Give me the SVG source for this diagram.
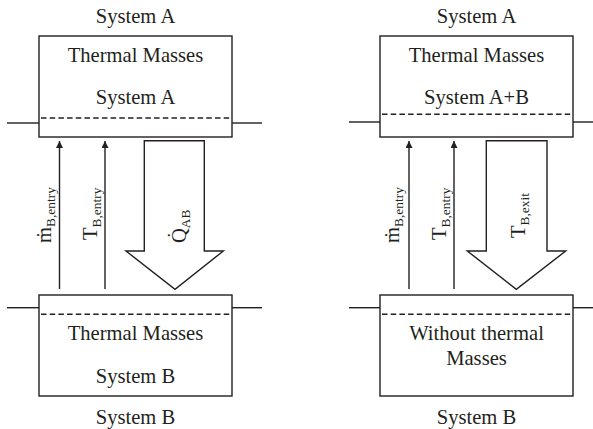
<svg xmlns="http://www.w3.org/2000/svg" width="593" height="429" viewBox="0 0 593 429">
  <defs>
    <style>
      text { font-family: "Liberation Serif", "Times New Roman", serif; font-size: 20.6px; fill: #231f20; }
      .c { text-anchor: middle; }
      .sub { font-size: 13.4px; }
      .box { fill: #fff; stroke: #231f20; stroke-width: 1.4; }
      .line { fill: none; stroke: #231f20; stroke-width: 1.4; }
      .dash { fill: none; stroke: #231f20; stroke-width: 1.4; stroke-dasharray: 5.5 3.2; }
      .flow { fill: none; stroke: #231f20; stroke-width: 1.4; marker-end: url(#tip); }
      .big { fill: #fff; stroke: #231f20; stroke-width: 1.4; stroke-linejoin: miter; }
    </style>
    <marker id="tip" viewBox="0 0 10 10" refX="10" refY="5" markerWidth="7" markerHeight="7" markerUnits="userSpaceOnUse" orient="auto">
      <path d="M0,0 L10,5 L0,10 z" fill="#231f20"/>
    </marker>
  </defs>

  <!-- Left panel: both systems with thermal masses -->
  <g id="left-system-a">
    <text class="c" x="135.5" y="23">System A</text>
    <line class="line" x1="7" y1="123" x2="39" y2="123"/>
    <line class="line" x1="232" y1="123" x2="262" y2="123"/>
    <rect class="box" x="39" y="36" width="193" height="101"/>
    <line class="dash" x1="41" y1="118" x2="231" y2="118"/>
    <text class="c" x="135.5" y="61.5">Thermal Masses</text>
    <text class="c" x="135.5" y="104">System A</text>
  </g>

  <g id="left-system-b">
    <line class="line" x1="7" y1="307.7" x2="39" y2="307.7"/>
    <line class="line" x1="232" y1="307.7" x2="262" y2="307.7"/>
    <rect class="box" x="39" y="295" width="193" height="101"/>
    <line class="dash" x1="41" y1="314.3" x2="231" y2="314.3"/>
    <text class="c" x="135.5" y="340">Thermal Masses</text>
    <text class="c" x="135.5" y="383">System B</text>
    <text class="c" x="135.5" y="424">System B</text>
  </g>

  <!-- Right panel: combined thermal masses -->
  <g id="right-system-a">
    <text class="c" x="476.5" y="23">System A</text>
    <line class="line" x1="349" y1="122" x2="380" y2="122"/>
    <line class="line" x1="573" y1="122" x2="600" y2="122"/>
    <rect class="box" x="380" y="36" width="193" height="101"/>
    <line class="dash" x1="382" y1="114.3" x2="572" y2="114.3"/>
    <text class="c" x="476.5" y="61.5">Thermal Masses</text>
    <text class="c" x="476.5" y="104">System A+B</text>
  </g>

  <g id="right-system-b">
    <line class="line" x1="349" y1="307.7" x2="380" y2="307.7"/>
    <line class="line" x1="573" y1="307.7" x2="600" y2="307.7"/>
    <rect class="box" x="380" y="295" width="193" height="101"/>
    <line class="dash" x1="382" y1="314.3" x2="572" y2="314.3"/>
    <text class="c" x="476.5" y="340">Without thermal</text>
    <text class="c" x="476.5" y="365">Masses</text>
    <text class="c" x="476.5" y="424">System B</text>
  </g>

  <!-- Connectors: mass flow, temperatures, heat flow -->
  <g id="connectors">
    <line class="flow" x1="59.5" y1="289" x2="59.5" y2="141"/>
    <line class="flow" x1="105" y1="289" x2="105" y2="141"/>
    <polygon class="big" points="144.3,140.7 204.3,140.7 204.3,251 223.3,251 175,289.3 126,251 144.3,251"/>
    <text transform="translate(51,243) rotate(-90)">ṁ<tspan class="sub" dy="4">B,entry</tspan></text>
    <text transform="translate(97,240) rotate(-90)">T<tspan class="sub" dy="4">B,entry</tspan></text>
    <text transform="translate(186,243) rotate(-90)">Q̇<tspan class="sub" dy="4">AB</tspan></text>

    <line class="flow" x1="409" y1="289" x2="409" y2="141"/>
    <line class="flow" x1="454" y1="289" x2="454" y2="141"/>
    <polygon class="big" points="486.3,140.7 547,140.7 547,251 565.7,251 516.3,289.3 467.3,251 486.3,251"/>
    <text transform="translate(399,243) rotate(-90)">ṁ<tspan class="sub" dy="4">B,entry</tspan></text>
    <text transform="translate(446,240) rotate(-90)">T<tspan class="sub" dy="4">B,entry</tspan></text>
    <text transform="translate(525,238) rotate(-90)">T<tspan class="sub" dy="4">B,exit</tspan></text>
  </g>
</svg>
